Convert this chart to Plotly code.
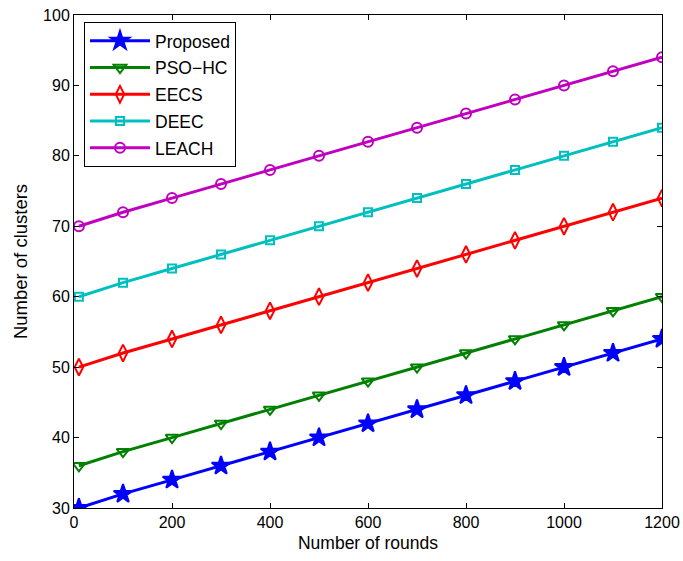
import plotly.graph_objects as go

rounds = [10, 100, 200, 300, 400, 500, 600, 700, 800, 900, 1000, 1100, 1200]
proposed = [30, 32, 34, 36, 38, 40, 42, 44, 46, 48, 50, 52, 54]
pso_hc = [36, 38, 40, 42, 44, 46, 48, 50, 52, 54, 56, 58, 60]
eecs = [50, 52, 54, 56, 58, 60, 62, 64, 66, 68, 70, 72, 74]
deec = [60, 62, 64, 66, 68, 70, 72, 74, 76, 78, 80, 82, 84]
leach = [70, 72, 74, 76, 78, 80, 82, 84, 86, 88, 90, 92, 94]

series = [
    ("Proposed", proposed, "#0000ff", "star", 14),
    ("PSO\u2212HC", pso_hc, "#008000", "triangle-down-open", 11),
    ("EECS", eecs, "#ff0000", "diamond-tall-open", 12),
    ("DEEC", deec, "#00bfbf", "square-open", 8),
    ("LEACH", leach, "#bf00bf", "circle-open", 10),
]

fig = go.Figure()
for i, (name, ys, color, sym, size) in enumerate(series):
    fig.add_trace(go.Scatter(
        x=rounds, y=ys, name=name, mode="lines+markers", legendgroup=f"g{i}",
        line=dict(color=color, width=3),
        marker=dict(symbol=sym, size=size, color=color,
                    line=dict(color=color, width=2)),
    ))

FONT = "Liberation Sans, Arial, sans-serif"
axis_common = dict(
    showline=True, linecolor="black", linewidth=1, mirror="ticks",
    ticks="inside", ticklen=5, tickcolor="black", showgrid=False, zeroline=False,
    automargin=False, ticklabeloverflow="allow",
    tickfont=dict(family=FONT, size=16, color="black"),
)

fig.update_layout(
    width=683, height=561, autosize=False,
    margin=dict(l=74, r=21, t=15, b=53),
    paper_bgcolor="white", plot_bgcolor="white",
    font=dict(family=FONT, size=17, color="black"),
    xaxis=dict(range=[0, 1200], tickvals=[0, 200, 400, 600, 800, 1000, 1200],
               title=dict(text="Number of rounds", standoff=6,
                          font=dict(size=17.5)), **axis_common),
    yaxis=dict(range=[30, 100], tickvals=[30, 40, 50, 60, 70, 80, 90, 100],
               title=dict(text="Number of clusters", standoff=10,
                          font=dict(size=18.5)), **axis_common),
    legend=dict(x=0.017, y=0.986, xanchor="left", yanchor="top",
                bordercolor="black", borderwidth=1, bgcolor="white",
                font=dict(size=17.5), itemwidth=60, tracegroupgap=1,
                traceorder="grouped"),
    showlegend=True,
)

fig.write_html(
    "out.html",
    config={"displayModeBar": False},
    post_script="document.body.style.margin='0';document.body.style.overflow='hidden';",
)
